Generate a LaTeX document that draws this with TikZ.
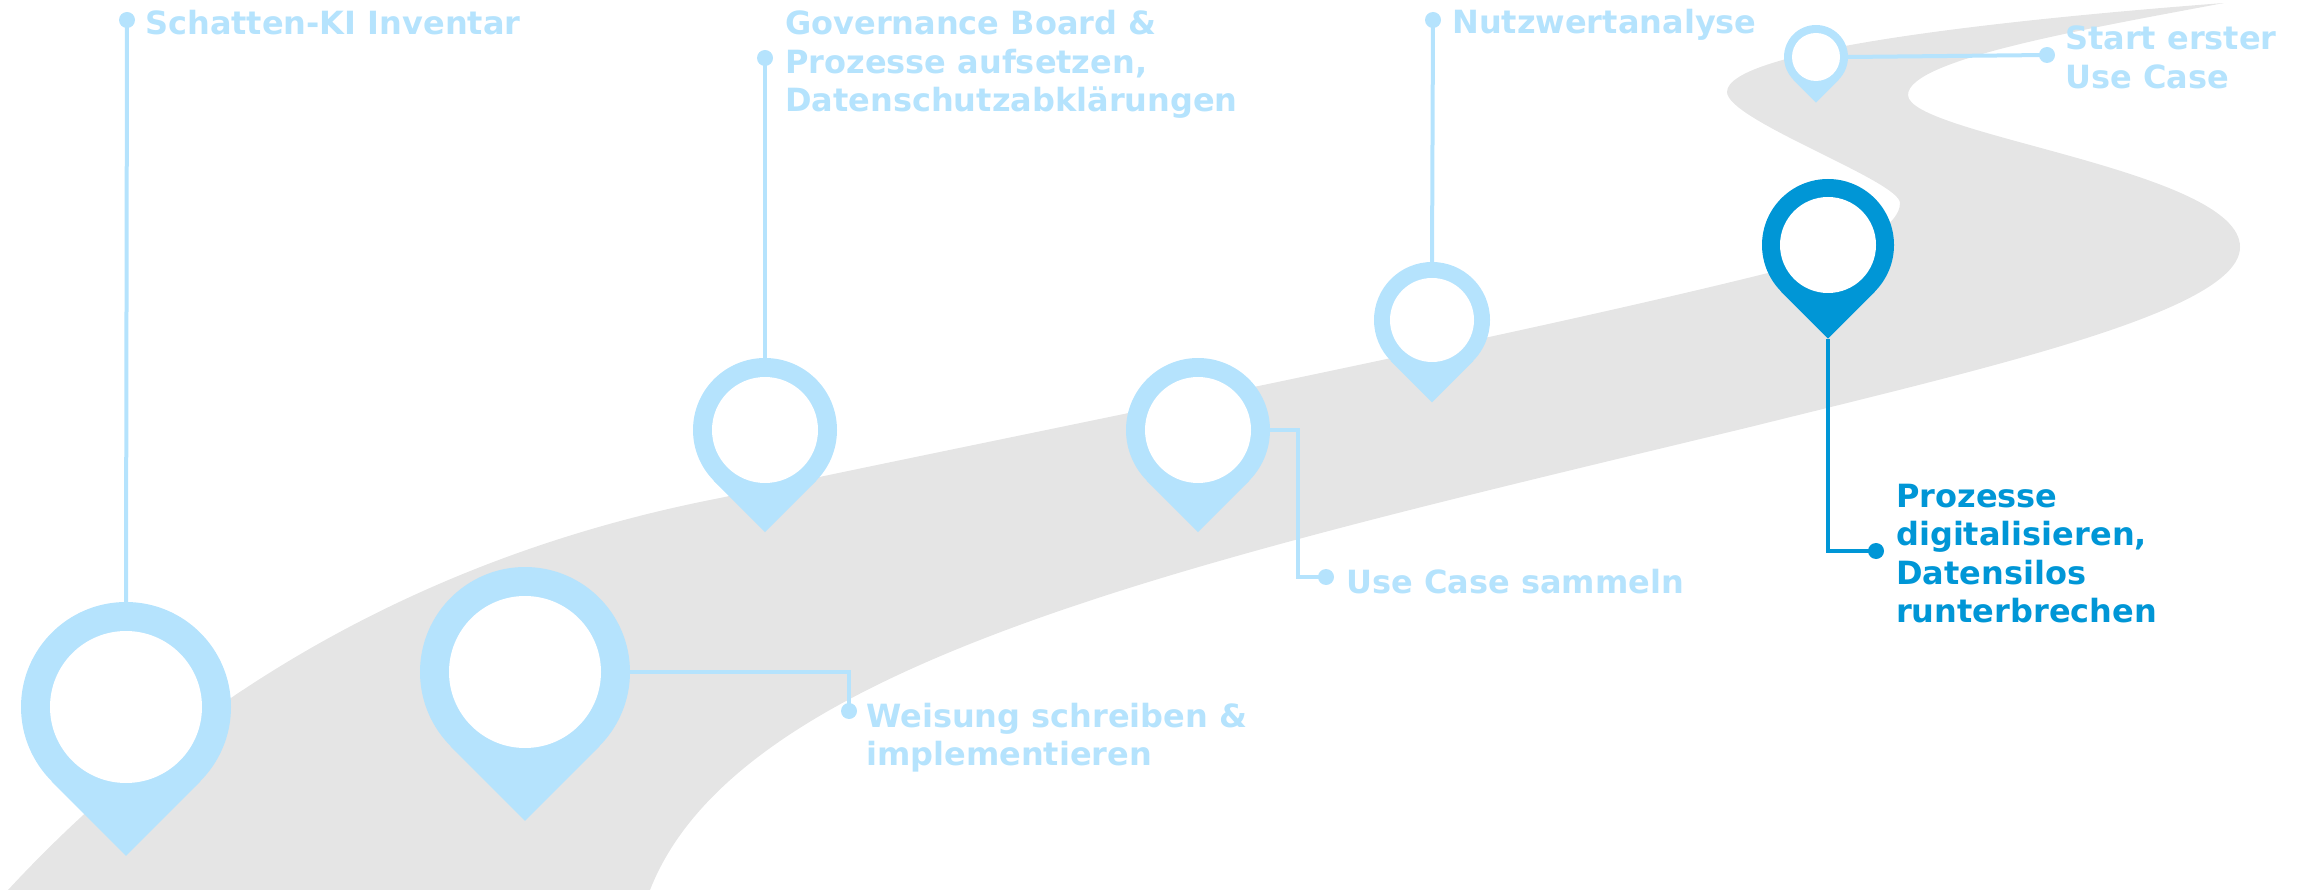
\documentclass[tikz,border=0pt]{standalone}
\usepackage{fontspec}
\setmainfont{DejaVu Sans}
\usetikzlibrary{calc}
\definecolor{lb}{HTML}{B5E3FD}
\definecolor{db}{HTML}{0096D6}
\definecolor{roadgray}{HTML}{E5E5E5}
\newcommand\mypin[6]{%
  \node[circle,fill=#6,minimum size=2*#4,inner sep=0] (#1) at (#2,#3) {};
  \coordinate (#1t) at ($(#1.center)!1.41421!(#1.south)$);
  \fill[#6] (#1.center) -- (#1.-135) -- (#1t) -- (#1.-45) -- cycle;
  \node[circle,fill=white,minimum size=2*#5,inner sep=0] (#1i) at (#1.center) {};
}
\begin{document}
\begin{tikzpicture}[x=1pt,y=-1pt,
  lbl/.style={anchor=base west,inner sep=0,text=lb,font=\fontsize{32}{38.5}\selectfont\bfseries},
  dlbl/.style={lbl,text=db},
  conn/.style={line width=4pt,draw=lb},
  dconn/.style={line width=3.5pt,draw=db},
  dot/.style={circle,fill=lb,minimum size=16,inner sep=0},
  ddot/.style={dot,fill=db}]
\useasboundingbox (0,0) rectangle (2297,890);
% road
\fill[roadgray] (8,890) .. controls (170,715) and (400,560) .. (720,498)
  .. controls (1000,438) and (1500,340) .. (1772,272)
  .. controls (1860,250) and (1900,225) .. (1900,203)
  .. controls (1900,181) and (1727,120) .. (1727,92)
  .. controls (1727,50) and (2000,20) .. (2224,3)
  .. controls (2080,30) and (1908,60) .. (1908,95)
  .. controls (1908,135) and (2240,170) .. (2240,247)
  .. controls (2240,310) and (2000,365) .. (1750,427)
  .. controls (1200,560) and (740,660) .. (650,890)
  -- cycle;
% dots
\node[dot] (d1) at (127,20) {};
\node[dot] (d3) at (765,58) {};
\node[dot] (d5) at (1433,20) {};
\node[dot] (d6) at (2047,55) {};
\node[dot] (d2) at (849,711) {};
\node[dot] (d4) at (1326,577) {};
\node[ddot] (d7) at (1876,551) {};
% pins
\mypin{p1}{126}{707}{105}{76}{lb}
\mypin{p2}{525}{672}{105}{76}{lb}
\mypin{p3}{765}{430}{72}{53}{lb}
\mypin{p4}{1198}{430}{72}{53}{lb}
\mypin{p5}{1432}{320}{58}{42}{lb}
\mypin{p6}{1816}{57}{32}{24}{lb}
\mypin{p7}{1828}{245}{66}{48}{db}
% connectors
\draw[conn] (p1.north) -- (d1.center);
\draw[conn] (p3.north) -- (d3.center);
\draw[conn] (p5.north) -- (d5.center);
\draw[conn] (p6.east) -- (d6.center);
\draw[conn] (p2.east) -| (d2.center);
\draw[conn] (p4.east) -| ($(d4.center)+(-28,0)$) -- (d4.center);
\draw[dconn] (p7t) |- (d7.center);
% labels
\node[lbl] (t1) at (145,35) {Schatten-KI Inventar};
\node[lbl] (t3) at (785,35) {\begin{tabular}[t]{@{}l@{}}Governance Board \&\\Prozesse aufsetzen,\\Datenschutzabklärungen\end{tabular}};
\node[lbl] (t5) at (1452,34) {Nutzwertanalyse};
\node[lbl] (t6) at (2065,50) {\begin{tabular}[t]{@{}l@{}}Start erster\\Use Case\end{tabular}};
\node[lbl] (t2) at (866,727) {\begin{tabular}[t]{@{}l@{}}Weisung schreiben \&\\implementieren\end{tabular}};
\node[lbl] (t4) at (1346,593) {Use Case sammeln};
\node[dlbl] (t7) at (1896,507) {\begin{tabular}[t]{@{}l@{}}Prozesse\\digitalisieren,\\Datensilos\\runterbrechen\end{tabular}};
\end{tikzpicture}
\end{document}
